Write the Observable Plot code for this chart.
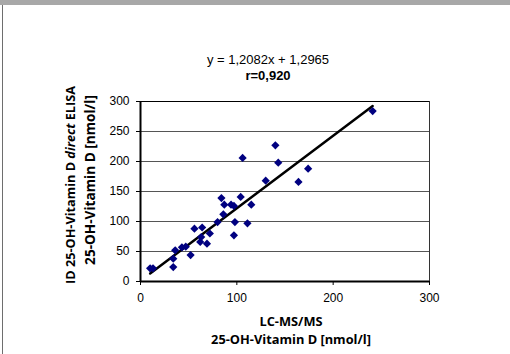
<!DOCTYPE html>
<html>
<head>
<meta charset="utf-8">
<script src="https://cdn.jsdelivr.net/npm/d3@7"></script>
<script src="https://cdn.jsdelivr.net/npm/@observablehq/plot@0.6"></script>
<style>
  html, body { margin: 0; padding: 0; background: #fff; }
  #wrap { position: relative; width: 510px; height: 354px; overflow: hidden; }
  #topbar { position: absolute; left: 0; top: 0; width: 510px; height: 5px; background: #a8a8a8; }
  #leftbar { position: absolute; left: 2px; top: 5px; width: 1px; height: 349px; background: #6e6e6e; }
  #chart { position: absolute; left: 0; top: 0; }
</style>
</head>
<body>
<div id="wrap">
  <div id="chart"></div>
  <div id="topbar"></div>
  <div id="leftbar"></div>
</div>
<script>
// Data
const lcms = [10, 13, 34, 34, 36, 43, 47, 52, 56, 62, 63, 64, 69, 72, 80, 84, 86, 87, 94, 97, 97, 98, 104, 106, 111, 115, 130, 140, 143, 164, 174, 241];
const elisa = [22, 22, 24, 38, 52, 57, 58, 44, 88, 66, 74, 90, 63, 80, 99, 139, 112, 128, 128, 126, 77, 99, 141, 206, 97, 128, 168, 227, 198, 166, 188, 284];
const trendX = [10, 241];
const trendY = [13.4, 292.5];
const xTicks = [0, 100, 200, 300];
const yTicks = [0, 50, 100, 150, 200, 250, 300];
const gridY = [50, 100, 150, 200, 250];
const equationText = "y = 1,2082x + 1,2965";
const rText = "r=0,920";
const xTitle = ["LC-MS/MS", "25-OH-Vitamin D [nmol/l]"];
const yTitle1 = ["ID 25-OH-Vitamin D ", "direct", " ELISA"];
const yTitle2 = "25-OH-Vitamin D [nmol/l]";

const points = lcms.map((x, i) => ({x, y: elisa[i]}));
const trend = trendX.map((x, i) => ({x, y: trendY[i]}));

const plot = Plot.plot({
  width: 510,
  height: 354,
  marginLeft: 140,
  marginRight: 81,
  marginTop: 101,
  marginBottom: 73,
  style: {fontFamily: "'Liberation Sans', Arial, sans-serif", fontSize: "12px", background: "transparent", color: "#000"},
  x: {domain: [0, 300], ticks: xTicks},
  y: {domain: [0, 300], ticks: yTicks},
  marks: [
    Plot.ruleY(gridY, {stroke: "#555", strokeWidth: 1}),
    Plot.ruleY([300], {stroke: "#000", strokeWidth: 1}),
    Plot.ruleX([300], {stroke: "#333", strokeWidth: 1}),
    Plot.axisX({ticks: xTicks, tickSize: 4, tickPadding: 8, label: null, fontSize: 12, stroke: "#000"}),
    Plot.axisY({ticks: yTicks, tickSize: 4, tickPadding: 7, label: null, fontSize: 12, stroke: "#000"}),
    Plot.ruleX([0], {stroke: "#000", strokeWidth: 2}),
    Plot.ruleY([0], {stroke: "#000", strokeWidth: 2}),
    Plot.line(trend, {x: "x", y: "y", stroke: "#000", strokeWidth: 2.5}),
    Plot.dot(points, {x: "x", y: "y", symbol: "diamond2", r: 3.7, fill: "#000080", stroke: "none"})
  ]
});
document.getElementById("chart").appendChild(plot);

const svg = d3.select(plot);
const titleFont = "'Open Sans', 'Noto Sans', sans-serif";
svg.append("text").attr("x", 268).attr("y", 64).attr("text-anchor", "middle")
  .attr("font-family", "'Liberation Sans', Arial, sans-serif").attr("font-size", 13).text(equationText);
svg.append("text").attr("x", 268).attr("y", 80).attr("text-anchor", "middle")
  .attr("font-family", "'Liberation Sans', Arial, sans-serif").attr("font-size", 13).attr("font-weight", "bold").text(rText);

svg.append("text").attr("x", 291).attr("y", 326).attr("text-anchor", "middle")
  .attr("font-family", titleFont).attr("font-size", 12.8).attr("font-weight", "bold").text(xTitle[0]);
svg.append("text").attr("x", 291).attr("y", 344).attr("text-anchor", "middle")
  .attr("font-family", titleFont).attr("font-size", 12.8).attr("font-weight", "bold").text(xTitle[1]);

const t1 = svg.append("text").attr("transform", "translate(75,185) rotate(-90)").attr("text-anchor", "middle")
  .attr("font-family", titleFont).attr("font-size", 12.7).attr("font-weight", "bold");
t1.append("tspan").text(yTitle1[0]);
t1.append("tspan").attr("font-style", "italic").text(yTitle1[1]);
t1.append("tspan").text(yTitle1[2]);
svg.append("text").attr("transform", "translate(95,180) rotate(-90)").attr("text-anchor", "middle")
  .attr("font-family", titleFont).attr("font-size", 13.6).attr("font-weight", "bold").text(yTitle2);
</script>
</body>
</html>
